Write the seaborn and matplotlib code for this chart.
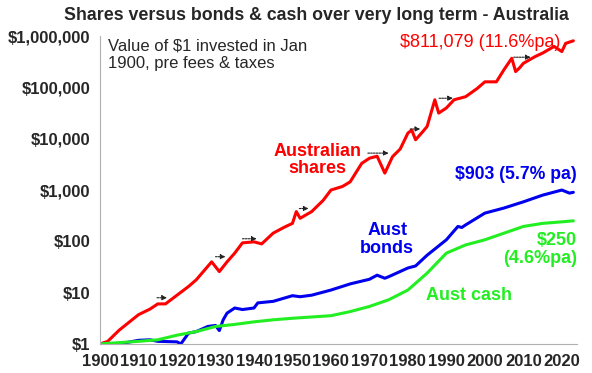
import numpy as np
import pandas as pd
import seaborn as sns
import matplotlib.pyplot as plt
from matplotlib.ticker import FixedLocator

# values (log10 of $ value)
share_years = [1900, 1902, 1905, 1910, 1913, 1915, 1917, 1920, 1923, 1925, 1929, 1931, 1933,
               1935, 1937, 1940, 1942, 1945, 1948, 1950, 1951, 1952, 1955, 1958, 1960, 1963,
               1965, 1968, 1970, 1972, 1974, 1976, 1978, 1980, 1981, 1982, 1984, 1985, 1987,
               1988, 1990, 1992, 1995, 1998, 2000, 2003, 2005, 2007, 2008, 2009, 2010, 2013,
               2015, 2018, 2020, 2021, 2023]
share_log = [0.0, 0.05, 0.27, 0.57, 0.68, 0.78, 0.78, 0.95, 1.12, 1.25, 1.6, 1.41, 1.6,
             1.77, 1.97, 1.99, 1.95, 2.16, 2.28, 2.35, 2.58, 2.45, 2.58, 2.8, 3.0, 3.07,
             3.16, 3.52, 3.62, 3.66, 3.33, 3.65, 3.8, 4.11, 4.17, 3.98, 4.15, 4.24, 4.76,
             4.5, 4.6, 4.76, 4.82, 4.98, 5.11, 5.11, 5.35, 5.57, 5.31, 5.38, 5.47, 5.6,
             5.67, 5.8, 5.7, 5.86, 5.91]

bond_years = [1900, 1905, 1910, 1913, 1915, 1920, 1921, 1923, 1925, 1928, 1930, 1931, 1932,
              1933, 1935, 1937, 1940, 1941, 1945, 1950, 1952, 1955, 1960, 1965, 1970, 1972,
              1974, 1975, 1980, 1982, 1985, 1990, 1993, 1994, 1995, 2000, 2005, 2010, 2015,
              2020, 2022, 2023]
bond_log = [0.0, 0.0, 0.07, 0.08, 0.05, 0.04, 0.0, 0.21, 0.24, 0.34, 0.36, 0.26, 0.47,
            0.6, 0.7, 0.67, 0.7, 0.8, 0.83, 0.94, 0.92, 0.95, 1.05, 1.17, 1.26, 1.34,
            1.28, 1.31, 1.48, 1.52, 1.73, 2.03, 2.29, 2.27, 2.32, 2.55, 2.65, 2.77, 2.9,
            3.0, 2.94, 2.956]

cash_years = [1900, 1910, 1915, 1920, 1925, 1930, 1935, 1940, 1945, 1950, 1960, 1965, 1970,
              1975, 1980, 1985, 1990, 1995, 2000, 2005, 2010, 2015, 2020, 2023]
cash_log = [0.0, 0.05, 0.08, 0.17, 0.24, 0.34, 0.38, 0.43, 0.47, 0.5, 0.55, 0.63, 0.73,
            0.86, 1.05, 1.38, 1.77, 1.93, 2.03, 2.16, 2.29, 2.35, 2.38, 2.4]

# little "new high" arrows: (start year, end year, log10 value)
arrows = [(1914.8, 1917.4, 0.9), (1930.0, 1932.6, 1.7), (1937.0, 1940.7, 2.05),
          (1951.8, 1954.2, 2.64), (1969.6, 1975.0, 3.72), (1980.6, 1983.2, 4.19),
          (1988.1, 1991.7, 4.79), (2007.5, 2011.9, 5.59)]

y_ticks = [1, 10, 100, 1000, 10000, 100000, 1000000]
y_labels = ['$1', '$10', '$100', '$1,000', '$10,000', '$100,000', '$1,000,000']
x_ticks = list(range(1900, 2030, 10))

df = pd.concat([
    pd.DataFrame({'year': share_years, 'value': 10 ** np.array(share_log), 'series': 'shares'}),
    pd.DataFrame({'year': bond_years, 'value': 10 ** np.array(bond_log), 'series': 'bonds'}),
    pd.DataFrame({'year': cash_years, 'value': 10 ** np.array(cash_log), 'series': 'cash'}),
])
colors = {'shares': '#ff0000', 'bonds': '#0000ee', 'cash': '#22ee22'}

sns.set_style('white')
plt.rcParams['font.family'] = ['Liberation Sans', 'DejaVu Sans']

fig = plt.figure(figsize=(5.92, 3.73), dpi=100)
ax = fig.add_axes([0.169, 0.078, 0.806, 0.825])
sns.lineplot(data=df, x='year', y='value', hue='series', palette=colors,
             linewidth=2.2, legend=False, ax=ax)
ax.set_yscale('log')
ax.set_ylim(1, 1e6)
ax.set_xlim(1900, 2024)
ax.yaxis.set_major_locator(FixedLocator(y_ticks))
ax.yaxis.set_minor_locator(FixedLocator([]))
ax.set_yticklabels(y_labels, fontsize=12, fontweight='bold')
ax.set_xticks(x_ticks)
ax.set_xticklabels([str(x) for x in x_ticks], fontsize=12, fontweight='bold')
ax.set_xlabel('')
ax.set_ylabel('')
sns.despine(ax=ax)
for s in ['left', 'bottom']:
    ax.spines[s].set_color('#b0b0b0')
    ax.spines[s].set_linewidth(0.8)
ax.tick_params(axis='both', length=4, color='#b0b0b0', pad=3)

for x0, x1, ly in arrows:
    ax.annotate('', xy=(x1, 10 ** ly), xytext=(x0, 10 ** ly),
                arrowprops=dict(arrowstyle='-|>', color='#222222', lw=0.8,
                                mutation_scale=7, linestyle=(0, (1.5, 1)),
                                shrinkA=0, shrinkB=0))

fig.text(0.535, 0.958, 'Shares versus bonds & cash over very long term - Australia',
         ha='center', va='center', fontsize=12.8, fontweight='bold')
ax.text(1902, 10 ** 5.95, 'Value of $1 invested in Jan\n1900, pre fees & taxes',
        ha='left', va='top', fontsize=12, linespacing=1.2)
ax.text(2019.5, 10 ** 5.885, '$811,079 (11.6%pa)', ha='right', va='center',
        color='#ff0000', fontsize=13)
ax.text(1956.5, 10 ** 3.59, 'Australian\nshares', ha='center', va='center',
        color='#ff0000', fontsize=13, fontweight='bold', linespacing=1.0)
ax.text(2024, 10 ** 3.3, '$903 (5.7% pa)', ha='right', va='center',
        color='#0000ee', fontsize=12.7, fontweight='bold')
ax.text(1974.6, 10 ** 2.03, 'Aust\nbonds', ha='center', va='center',
        color='#0000ee', fontsize=13, fontweight='bold', linespacing=1.1)
ax.text(2024, 10 ** 1.84, '$250\n(4.6%pa)', ha='right', va='center',
        color='#22ee22', fontsize=13, fontweight='bold', linespacing=1.1)
ax.text(1996, 10 ** 0.94, 'Aust cash', ha='center', va='center',
        color='#22ee22', fontsize=13, fontweight='bold')

plt.savefig('out.png', dpi=100)
